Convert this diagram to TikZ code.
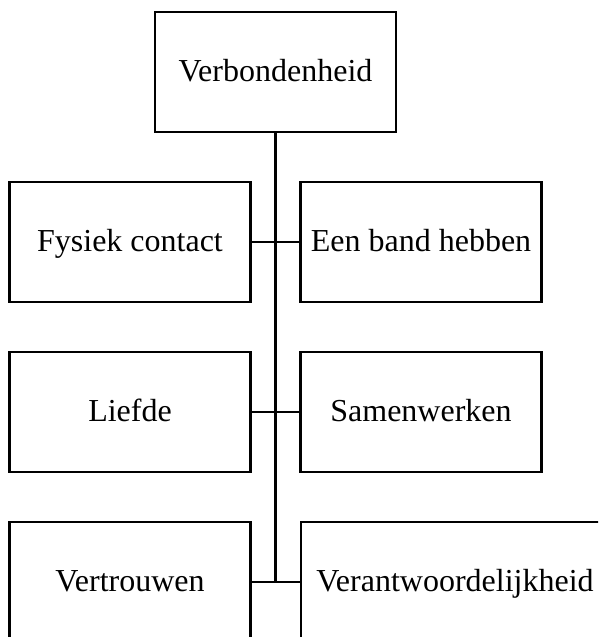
\documentclass[tikz,border=0pt]{standalone}
\usepackage{fontspec}
\setmainfont{Liberation Serif}
\begin{document}
\begin{tikzpicture}[x=1pt,y=-1pt,
  box/.style={draw=black,line width=2.3pt,fill=white,minimum width=241pt,minimum height=120pt,inner sep=0pt,text height=25pt,text depth=7pt,font=\fontsize{32}{38}\selectfont},
  link/.style={draw=black,line width=2.3pt}]
\clip (0,0) rectangle (598,637);
\node[box] (top) at (275.5,72) {Verbondenheid};
\node[box] (l1) at (130,242) {Fysiek contact};
\node[box] (r1) at (421,242) {Een band hebben};
\node[box] (l2) at (130,412) {Liefde};
\node[box] (r2) at (421,412) {Samenwerken};
\node[box] (l3) at (130,582) {Vertrouwen};
\node[box,minimum width=308pt] (r3) at (455,582) {Verantwoordelijkheid};
\coordinate (bend) at (top.south |- l3.east);
\draw[link] (top.south) -- (bend);
\draw[link] (l1.east) -- (r1.west);
\draw[link] (l2.east) -- (r2.west);
\draw[link] (l3.east) -- (r3.west);
\end{tikzpicture}
\end{document}
